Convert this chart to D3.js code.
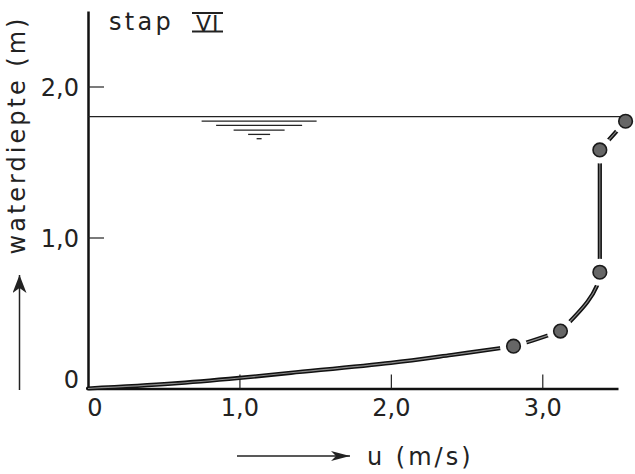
<!DOCTYPE html>
<html>
<head>
<meta charset="utf-8">
<script src="https://cdn.jsdelivr.net/npm/d3@7"></script>
<style>
  html, body { margin: 0; padding: 0; background: #fff; }
  svg { display: block; }
  text { font-family: "DejaVu Sans", sans-serif; fill: #222; }
</style>
</head>
<body>
<div id="chart"></div>
<script>
// values
const uTicks = [0, 1, 2, 3];
const depthTicks = [0, 1, 2];
const curveU = [0, 0.55, 1.0, 1.34, 2.0, 2.4, 2.73];
const curveDepth = [0, 0.032, 0.07, 0.104, 0.17, 0.222, 0.268];
const dotU = [2.81, 3.12, 3.38, 3.38, 3.55];
const dotDepth = [0.28, 0.38, 0.77, 1.58, 1.77];
const waterLevel = 1.8;
const waterMarkU = 1.13;

const width = 635, height = 474;

const svg = d3.select("#chart").append("svg")
    .attr("width", width)
    .attr("height", height);

const x = d3.scaleLinear().domain([0, 3.5]).range([88, 618]);
const y = d3.scaleLinear().domain([0, 2.5]).range([388.5, 11]);

const fmt = d => d === 0 ? "0" : d3.format(".1f")(d).replace(".", ",");

// x axis (ticks point up)
const xAxisG = svg.append("g")
    .attr("transform", `translate(0,${y(0)})`)
    .call(d3.axisBottom(x).tickValues(uTicks).tickFormat(fmt)
        .tickSizeInner(-14).tickSizeOuter(0).tickPadding(10));
xAxisG.select(".domain").attr("stroke", "#111").attr("stroke-width", 2.5);
xAxisG.selectAll(".tick line").attr("stroke", "#222").attr("stroke-width", 1.2)
    .filter(d => d === 0).remove();
xAxisG.selectAll(".tick text")
    .attr("font-size", 24).attr("font-family", "DejaVu Sans").attr("fill", "#222")
    .attr("dx", d => d === 0 ? 6.5 : 0);

// y axis (ticks point right)
const yAxisG = svg.append("g")
    .attr("transform", `translate(${x(0)},0)`)
    .call(d3.axisLeft(y).tickValues(depthTicks).tickFormat(fmt)
        .tickSizeInner(-16).tickSizeOuter(0).tickPadding(9));
yAxisG.select(".domain").attr("stroke", "#111").attr("stroke-width", 2.5);
yAxisG.selectAll(".tick line").attr("stroke", "#222").attr("stroke-width", 1.2)
    .filter(d => d === 0).remove();
yAxisG.selectAll(".tick text")
    .attr("font-size", 24).attr("font-family", "DejaVu Sans").attr("fill", "#222")
    .attr("dy", d => d === 0 ? "-0.05em" : "0.36em");

// velocity profile: lower part along u, upper part along depth, top dash straight
const dots = dotU.map((u, i) => ({u, z: dotDepth[i]}));
const lowerPart = curveU.map((u, i) => ({u, z: curveDepth[i]})).concat(dots.slice(0, 2));
const upperPart = dots.slice(1, 4).sort((a, b) => b.z - a.z);
const topPart = dots.slice(3);

const lowerLine = d3.line()
    .x(d => x(d.u)).y(d => y(d.z))
    .curve(d3.curveCatmullRom.alpha(0.5));
const upperLine = d3.line()
    .x(d => x(d.u)).y(d => y(d.z))
    .curve(d3.curveMonotoneY);
const topLine = d3.line()
    .x(d => x(d.u)).y(d => y(d.z));

const profileG = svg.append("g");
[[lowerPart, lowerLine], [upperPart, upperLine], [topPart, topLine]].forEach(([pts, gen]) => {
    profileG.append("path")
        .datum(pts)
        .attr("d", gen)
        .attr("fill", "none")
        .attr("stroke", "#111")
        .attr("stroke-width", 4.2)
        .attr("stroke-linecap", "round");
    profileG.append("path")
        .datum(pts)
        .attr("d", gen)
        .attr("fill", "none")
        .attr("stroke", "#8a8a8a")
        .attr("stroke-width", 1.1);
});

// white gaps round the measured points
svg.append("g").selectAll("circle")
    .data(dots)
    .join("circle")
    .attr("cx", d => x(d.u))
    .attr("cy", d => y(d.z))
    .attr("r", 13.5)
    .attr("fill", "#fff");

// water surface
svg.append("line")
    .attr("x1", x(0)).attr("x2", x(dotU[dotU.length - 1]))
    .attr("y1", y(waterLevel)).attr("y2", y(waterLevel))
    .attr("stroke", "#222").attr("stroke-width", 1.3);

const markG = svg.append("g")
    .attr("transform", `translate(${x(waterMarkU)},${y(waterLevel)})`);
[[4.4, 57.5], [8.7, 43], [13.4, 25.5], [17.7, 11], [22, 2.5]].forEach(([dy, hw]) => {
    markG.append("line")
        .attr("x1", -hw).attr("x2", hw)
        .attr("y1", dy).attr("y2", dy)
        .attr("stroke", "#222").attr("stroke-width", 1.3);
});

svg.append("g").selectAll("circle")
    .data(dots)
    .join("circle")
    .attr("cx", d => x(d.u))
    .attr("cy", d => y(d.z))
    .attr("r", 6.8)
    .attr("fill", "#666")
    .attr("stroke", "#1a1a1a")
    .attr("stroke-width", 1.6);

// title "stap VI"
svg.append("text")
    .attr("x", 109).attr("y", 30)
    .attr("font-size", 24)
    .attr("letter-spacing", 3.3)
    .text("stap");
svg.append("text")
    .attr("x", 196).attr("y", 31)
    .attr("font-size", 22)
    .attr("letter-spacing", 1)
    .text("VI");
[13, 31.5].forEach(yy => {
    svg.append("line")
        .attr("x1", 192).attr("x2", 223)
        .attr("y1", yy).attr("y2", yy)
        .attr("stroke", "#222").attr("stroke-width", 2);
});

// y label with arrow
svg.append("text")
    .attr("transform", "translate(25,135) rotate(-90)")
    .attr("text-anchor", "middle")
    .attr("font-size", 24)
    .attr("letter-spacing", 3)
    .text("waterdiepte (m)");

const defs = svg.append("defs");
defs.append("marker")
    .attr("id", "headUp")
    .attr("viewBox", "0 0 18 14")
    .attr("refX", 18).attr("refY", 7)
    .attr("markerWidth", 18).attr("markerHeight", 14)
    .attr("markerUnits", "userSpaceOnUse")
    .attr("orient", "auto")
    .append("path")
    .attr("d", "M0,0 L18,7 L0,14 L5,7 Z")
    .attr("fill", "#222");
defs.append("marker")
    .attr("id", "headRight")
    .attr("viewBox", "0 0 19 10")
    .attr("refX", 19).attr("refY", 5)
    .attr("markerWidth", 19).attr("markerHeight", 10)
    .attr("markerUnits", "userSpaceOnUse")
    .attr("orient", "auto")
    .append("path")
    .attr("d", "M0,0 L19,5 L0,10 L5,5 Z")
    .attr("fill", "#222");

svg.append("line")
    .attr("x1", 19.5).attr("x2", 19.5)
    .attr("y1", 390).attr("y2", 275)
    .attr("stroke", "#222").attr("stroke-width", 1.5)
    .attr("marker-end", "url(#headUp)");

// x label with arrow
svg.append("line")
    .attr("x1", 237).attr("x2", 350)
    .attr("y1", 456).attr("y2", 456)
    .attr("stroke", "#222").attr("stroke-width", 1.5)
    .attr("marker-end", "url(#headRight)");

svg.append("text")
    .attr("x", 367).attr("y", 465)
    .attr("font-size", 24)
    .attr("letter-spacing", 3)
    .text("u (m/s)");
</script>
</body>
</html>
